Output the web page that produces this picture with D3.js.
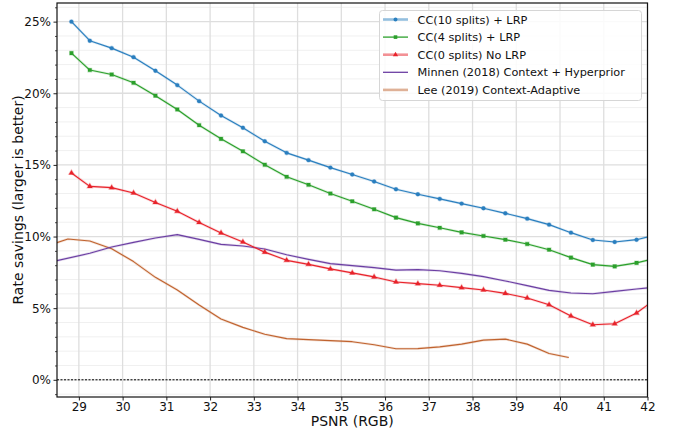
<!DOCTYPE html>
<html>
<head>
<meta charset="utf-8">
<script src="https://cdn.jsdelivr.net/npm/d3@7"></script>
<style>
  html, body { margin: 0; padding: 0; background: #fff; }
  svg { display: block; font-family: "DejaVu Sans", sans-serif; }
</style>
</head>
<body>
<svg id="chart" width="673" height="431"></svg>
<script>
// PSNR sample points for the CC models
const psnrCC = [28.83, 29.25, 29.75, 30.25, 30.75, 31.25, 31.75, 32.25, 32.75, 33.25,
  33.75, 34.25, 34.75, 35.25, 35.75, 36.25, 36.75, 37.25, 37.75, 38.25,
  38.75, 39.25, 39.75, 40.25, 40.75, 41.25, 41.75, 42.25];

const cc10 = [25.0, 23.67, 23.15, 22.52, 21.57, 20.57, 19.45, 18.45, 17.59, 16.65,
  15.84, 15.33, 14.81, 14.33, 13.84, 13.30, 12.95, 12.63, 12.30, 11.97,
  11.62, 11.25, 10.83, 10.27, 9.76, 9.62, 9.78, 10.16];

const cc4 = [22.80, 21.62, 21.31, 20.73, 19.83, 18.87, 17.77, 16.82, 15.95, 15.01,
  14.17, 13.61, 13.00, 12.46, 11.90, 11.32, 10.92, 10.61, 10.29, 10.04,
  9.78, 9.48, 9.08, 8.53, 8.04, 7.92, 8.16, 8.52];

const cc0 = [14.44, 13.50, 13.41, 13.04, 12.38, 11.76, 10.98, 10.25, 9.62, 8.91,
  8.34, 8.06, 7.74, 7.46, 7.18, 6.83, 6.71, 6.60, 6.43, 6.27,
  6.03, 5.71, 5.24, 4.45, 3.84, 3.91, 4.66, 5.78];

const psnrMinnen = [28.25, 29.25, 29.75, 30.25, 30.75, 31.25, 31.75, 32.25, 32.75, 33.25,
  33.75, 34.25, 34.75, 35.25, 35.75, 36.25, 36.75, 37.25, 37.75, 38.25,
  38.75, 39.25, 39.75, 40.25, 40.75, 41.25, 41.75, 42.25];
const minnen = [8.15, 8.83, 9.27, 9.59, 9.90, 10.13, 9.80, 9.45, 9.34, 9.13,
  8.73, 8.41, 8.11, 7.97, 7.83, 7.66, 7.69, 7.61, 7.43, 7.20,
  6.90, 6.57, 6.24, 6.06, 6.01, 6.17, 6.34, 6.48];

const psnrLee = [28.25, 28.75, 29.25, 29.75, 30.25, 30.75, 31.25, 31.75, 32.25, 32.75,
  33.25, 33.75, 34.25, 34.75, 35.25, 35.75, 36.25, 36.75, 37.25, 37.75,
  38.25, 38.75, 39.25, 39.75, 40.2];
const lee = [9.31, 9.83, 9.69, 9.15, 8.25, 7.15, 6.27, 5.22, 4.24, 3.66,
  3.18, 2.87, 2.80, 2.73, 2.66, 2.45, 2.17, 2.18, 2.30, 2.49,
  2.77, 2.84, 2.49, 1.84, 1.56];

const xTicks = [29, 30, 31, 32, 33, 34, 35, 36, 37, 38, 39, 40, 41, 42];
const yTicks = [0, 5, 10, 15, 20, 25];
const yMinorTicks = d3.range(-1, 27, 1);

const seriesNames = ["CC(10 splits) + LRP", "CC(4 splits) + LRP", "CC(0 splits) No LRP",
  "Minnen (2018) Context + Hyperprior", "Lee (2019) Context-Adaptive"];

const series = [
  { name: seriesNames[0], x: psnrCC, y: cc10, color: "#2a7fbf", marker: "circle", legendHalo: true },
  { name: seriesNames[1], x: psnrCC, y: cc4, color: "#2ca02c", marker: "square", legendHalo: false },
  { name: seriesNames[2], x: psnrCC, y: cc0, color: "#e8232b", marker: "triangle", legendHalo: true },
  { name: seriesNames[3], x: psnrMinnen, y: minnen, color: "#6c3fa3", marker: null, legendHalo: false },
  { name: seriesNames[4], x: psnrLee, y: lee, color: "#c0632f", marker: null, legendHalo: true }
];

const svg = d3.select("#chart");
const m = { left: 57, right: 647.5, top: 3, bottom: 397 };

const x = d3.scaleLinear().domain([28.5, 42]).range([m.left, m.right]);
const y = d3.scaleLinear().domain([-1.2, 26.3]).range([m.bottom, m.top]);

// grid
const grid = svg.append("g");
grid.selectAll("line.ymin").data(yMinorTicks.filter(v => v % 5 !== 0)).join("line")
  .attr("x1", m.left).attr("x2", m.right)
  .attr("y1", d => y(d)).attr("y2", d => y(d))
  .attr("stroke", "#f0f0f0").attr("stroke-width", 1);
grid.selectAll("line.ymaj").data(yTicks).join("line")
  .attr("x1", m.left).attr("x2", m.right)
  .attr("y1", d => y(d)).attr("y2", d => y(d))
  .attr("stroke", "#dedede").attr("stroke-width", 1.3);
grid.selectAll("line.xmaj").data(xTicks).join("line")
  .attr("x1", d => x(d)).attr("x2", d => x(d))
  .attr("y1", m.top).attr("y2", m.bottom)
  .attr("stroke", "#dedede").attr("stroke-width", 1.3);

// zero reference
svg.append("line")
  .attr("x1", m.left).attr("x2", m.right)
  .attr("y1", y(0)).attr("y2", y(0))
  .attr("stroke", "#000").attr("stroke-width", 1).attr("stroke-dasharray", "2,1.5");

// clip region for the plotted curves
svg.append("clipPath").attr("id", "plotclip").append("rect")
  .attr("x", m.left).attr("y", m.top)
  .attr("width", m.right - m.left).attr("height", m.bottom - m.top);

const plot = svg.append("g").attr("clip-path", "url(#plotclip)");
const line = d3.line().x(d => x(d[0])).y(d => y(d[1]));

function markerPath(type, size) {
  if (type === "circle") return d3.symbol(d3.symbolCircle, size)();
  if (type === "square") return d3.symbol(d3.symbolSquare, size)();
  if (type === "triangle") return d3.symbol(d3.symbolTriangle, size)();
  return null;
}

const markerSize = { circle: 12, square: 13, triangle: 12 };

// draw bottom-most series first
series.slice().reverse().forEach(s => {
  const pts = s.x.map((v, i) => [v, s.y[i]]);
  plot.append("path").datum(pts)
    .attr("d", line).attr("fill", "none")
    .attr("stroke", s.color).attr("stroke-opacity", 0.18).attr("stroke-width", 2.6)
    .attr("stroke-linejoin", "round");
  plot.append("path").datum(pts)
    .attr("d", line).attr("fill", "none")
    .attr("stroke", s.color).attr("stroke-width", 1.15)
    .attr("stroke-linejoin", "round");
  if (s.marker) {
    plot.selectAll(null).data(pts).join("path")
      .attr("d", markerPath(s.marker, markerSize[s.marker]))
      .attr("transform", d => `translate(${x(d[0])},${y(d[1])})`)
      .attr("fill", s.color)
      .attr("stroke", s.color).attr("stroke-opacity", 0.3).attr("stroke-width", 1.2);
  }
});

// axes
const xAxis = d3.axisBottom(x).tickValues(xTicks).tickSize(3.5).tickPadding(1.5).tickFormat(d3.format("d"));
const gx = svg.append("g").attr("transform", `translate(0,${m.bottom})`).call(xAxis);
gx.select(".domain").remove();
gx.selectAll("text").attr("font-size", 12).attr("fill", "#111").attr("font-family", "DejaVu Sans");
gx.selectAll("line").attr("stroke", "#222").attr("stroke-width", 1);

const yAxis = d3.axisLeft(y).tickValues(yTicks).tickSize(3.5).tickPadding(2.5).tickFormat(d => d + "%");
const gy = svg.append("g").attr("transform", `translate(${m.left},0)`).call(yAxis);
gy.select(".domain").remove();
gy.selectAll("text").attr("font-size", 12).attr("fill", "#111").attr("font-family", "DejaVu Sans");
gy.selectAll("line").attr("stroke", "#222").attr("stroke-width", 1);

const yMinorAxis = d3.axisLeft(y).tickValues(yMinorTicks.filter(v => v % 5 !== 0)).tickSize(2).tickFormat("");
const gym = svg.append("g").attr("transform", `translate(${m.left},0)`).call(yMinorAxis);
gym.select(".domain").remove();
gym.selectAll("line").attr("stroke", "#222").attr("stroke-width", 0.8);

// frame
svg.append("rect")
  .attr("x", m.left).attr("y", m.top)
  .attr("width", m.right - m.left).attr("height", m.bottom - m.top)
  .attr("fill", "none").attr("stroke", "#111").attr("stroke-width", 1.2);

// axis titles
svg.append("text")
  .attr("x", (m.left + m.right) / 2).attr("y", 426)
  .attr("text-anchor", "middle").attr("font-size", 14).attr("fill", "#111")
  .text("PSNR (RGB)");
svg.append("text")
  .attr("transform", `translate(23,${(m.top + m.bottom) / 2}) rotate(-90)`)
  .attr("text-anchor", "middle").attr("font-size", 14).attr("fill", "#111")
  .text("Rate savings (larger is better)");

// legend
const lg = svg.append("g");
lg.append("rect")
  .attr("x", 379.5).attr("y", 10.5).attr("width", 262).attr("height", 90).attr("rx", 3)
  .attr("fill", "#fff").attr("fill-opacity", 0.85)
  .attr("stroke", "#d6d6d6").attr("stroke-width", 1);
series.forEach((s, i) => {
  const cy = 19.5 + i * 17.6;
  const g = lg.append("g");
  if (s.legendHalo) {
    g.append("line").attr("x1", 383).attr("x2", 408).attr("y1", cy).attr("y2", cy)
      .attr("stroke", s.color).attr("stroke-opacity", 0.5).attr("stroke-width", 2.6);
  } else {
    g.append("line").attr("x1", 383).attr("x2", 408).attr("y1", cy).attr("y2", cy)
      .attr("stroke", s.color).attr("stroke-width", 1.3);
  }
  if (s.marker) {
    g.append("path").attr("d", markerPath(s.marker, markerSize[s.marker]))
      .attr("transform", `translate(395.5,${cy})`).attr("fill", s.color);
  }
  g.append("text").attr("x", 417.5).attr("y", cy + 4)
    .attr("font-size", 11.3).attr("fill", "#111").text(s.name);
});
</script>
</body>
</html>
